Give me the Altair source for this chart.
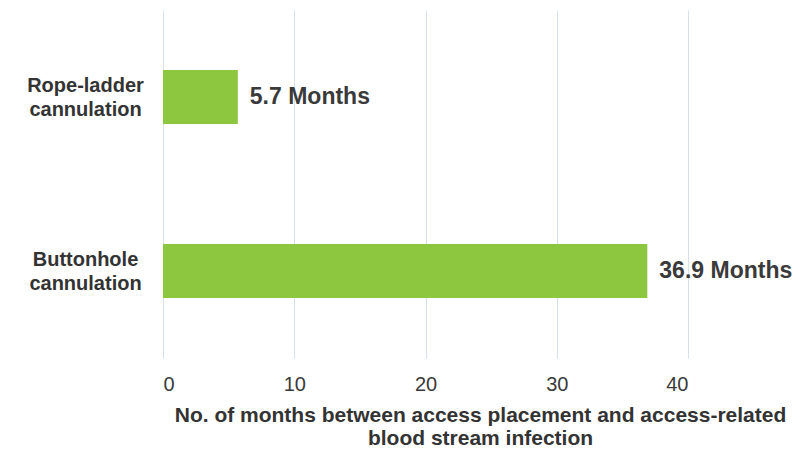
import altair as alt
import pandas as pd

categories = ["Rope-ladder cannulation", "Buttonhole cannulation"]
values = [5.7, 36.9]
labels = ["5.7 Months", "36.9 Months"]

df = pd.DataFrame({"cat": categories, "val": values, "lab": labels})

x = alt.X("val:Q", scale=alt.Scale(domain=[0, 40], nice=False),
          axis=alt.Axis(values=[0, 10, 20, 30, 40], grid=True, gridColor="#d6e0ea",
                        domain=False, ticks=False, labelFont="Liberation Sans",
                        labelFontSize=20, labelColor="#3a3a3a", labelPadding=16,
                        title=["No. of months between access placement and access-related",
                               "blood stream infection"],
                        titleFont="Liberation Sans", titleFontSize=21, titleFontWeight="bold",
                        titleColor="#333333", titleX=317, titleY=46, titleAlign="center",
                        titleBaseline="top", titleLineHeight=23))
y = alt.Y("cat:N", sort=categories,
          scale=alt.Scale(paddingInner=0, paddingOuter=0),
          axis=alt.Axis(domain=False, ticks=False, grid=False, title=None,
                        labelExpr="split(datum.label, ' ')", labelAlign="center",
                        labelOffset=-11,
                        labelPadding=78, labelFont="Liberation Sans", labelFontSize=20,
                        labelFontWeight="bold", labelColor="#333333", labelLineHeight=24))

bars = alt.Chart(df).mark_bar(color="#8dc63f", size=54).encode(x=x, y=y)
text = alt.Chart(df).mark_text(align="left", dx=12, font="Liberation Sans", fontSize=23,
                               fontWeight="bold", color="#3a3a3a").encode(
    x="val:Q", y=alt.Y("cat:N", sort=categories), text="lab:N")

chart = (bars + text).properties(
    width=525, height=348,
    autosize=alt.AutoSizeParams(type="none"),
    padding={"left": 155, "top": 2, "right": 104, "bottom": 90},
).configure_view(stroke=None)

chart.save("out.html", embed_options={"renderer": "svg", "actions": False})
